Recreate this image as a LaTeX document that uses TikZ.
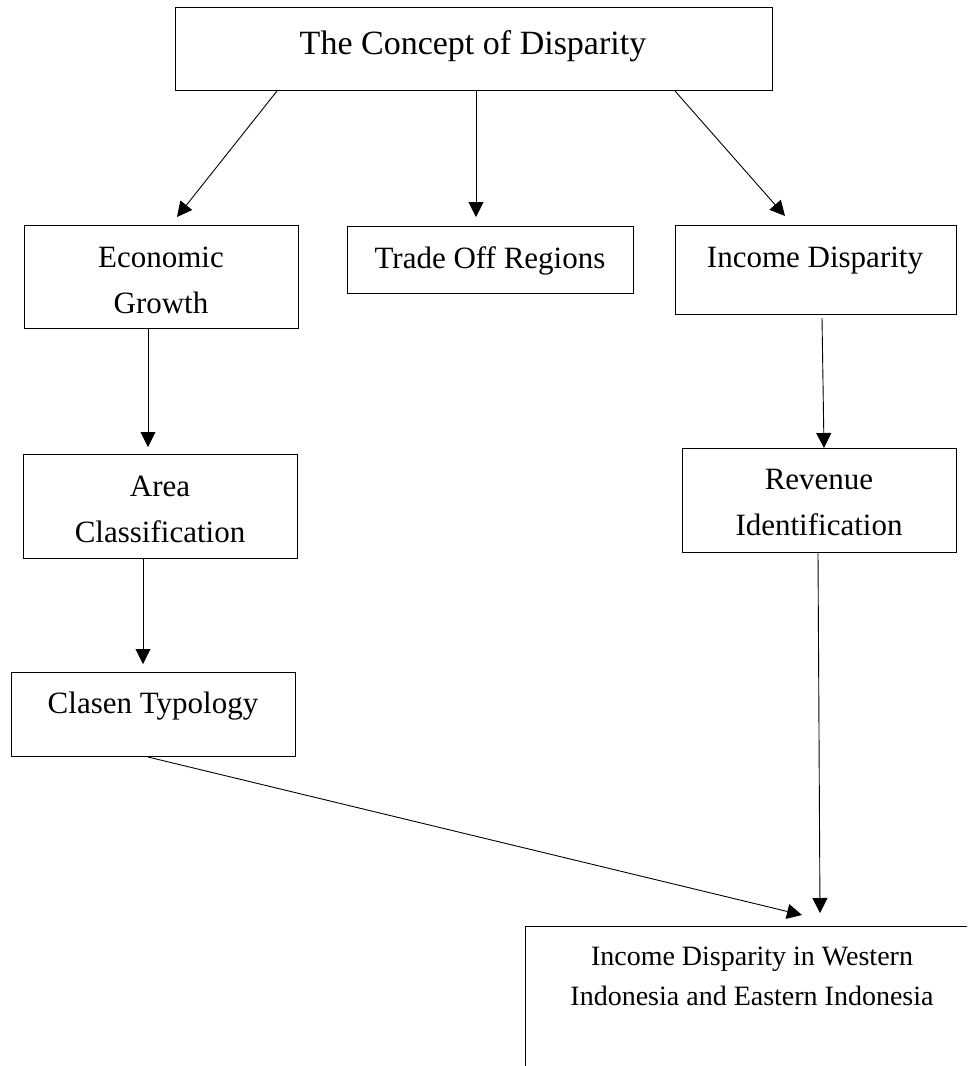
\documentclass[tikz,border=0pt]{standalone}
\usepackage{fontspec}
\setmainfont{Liberation Serif}
\usetikzlibrary{arrows.meta,calc}
\tikzset{
  boxnode/.style={draw, line width=1pt, inner sep=0pt, anchor=north west},
  txt/.style={inner sep=0pt, anchor=base, align=center, font=\fontsize{31}{46}\selectfont},
  bigtxt/.style={inner sep=0pt, anchor=base, font=\fontsize{34}{40}\selectfont},
  smalltxt/.style={inner sep=0pt, anchor=base, align=center, font=\fontsize{28}{40}\selectfont},
  arr/.style={line width=0.9pt, -{Triangle[length=15pt,width=15pt]}}
}
\begin{document}
\begin{tikzpicture}[x=1pt,y=-1pt]
\useasboundingbox (0,0) rectangle (967,1066);
\clip (0,0) rectangle (967,1066);
% boxes
\node[boxnode, minimum width=597pt, minimum height=83pt] (top) at (175,7) {};
\node[boxnode, minimum width=274pt, minimum height=103pt] (eg) at (24,225) {};
\node[boxnode, minimum width=286pt, minimum height=67pt] (tor) at (347,226) {};
\node[boxnode, minimum width=281pt, minimum height=89pt] (inc) at (675,225) {};
\node[boxnode, minimum width=274pt, minimum height=104pt] (area) at (23,454) {};
\node[boxnode, minimum width=274pt, minimum height=104pt] (rev) at (682,448) {};
\node[boxnode, minimum width=284pt, minimum height=84pt] (clas) at (11,672) {};
\node[boxnode, minimum width=454pt, minimum height=200pt] (fin) at (525,926) {};
% texts (base anchor = baseline of the last line)
\node[bigtxt] (topT) at (473,54) {The Concept of Disparity};
\node[txt] (egT) at (161,313) {Economic\\Growth};
\node[txt] (torT) at (490,268) {Trade Off Regions};
\node[txt] (incT) at (815,267) {Income Disparity};
\node[txt] (areaT) at (160,542) {Area\\Classification};
\node[txt] (revT) at (819,535) {Revenue\\Identification};
\node[txt] (clasT) at (153,713) {Clasen Typology};
\node[smalltxt] (finT) at (752,1005) {Income Disparity in Western\\Indonesia and Eastern Indonesia};
% connectors
\draw[arr] ([xshift=102pt]top.south west) -- ([xshift=153pt,yshift=8pt]eg.north west);
\draw[arr] ([xshift=301pt]top.south west) -- ([xshift=129pt,yshift=9pt]tor.north west);
\draw[arr] ([xshift=500pt]top.south west) -- ([xshift=110pt,yshift=9pt]inc.north west);
\draw[arr] ([xshift=124pt]eg.south west) -- ([xshift=125pt,yshift=7pt]area.north west);
\draw[arr] ([xshift=147pt,yshift=-3pt]inc.south west) -- ([xshift=142pt]rev.north west);
\draw[arr] ([xshift=120pt]area.south west) -- ([xshift=132pt,yshift=8pt]clas.north west);
\draw[arr] ([xshift=136pt]rev.south west) -- ([xshift=295pt,yshift=13pt]fin.north west);
\draw[arr] ([xshift=137pt]clas.south west) -- ([xshift=277pt,yshift=11pt]fin.north west);
\end{tikzpicture}
\end{document}
